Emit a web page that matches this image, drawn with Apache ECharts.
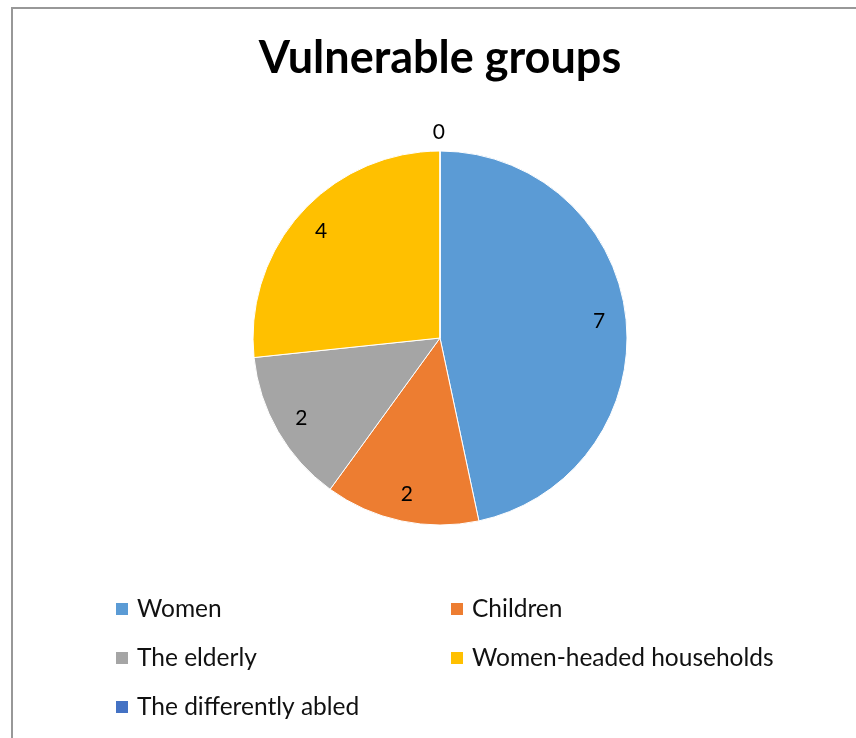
<!DOCTYPE html>
<html>
<head>
<meta charset="utf-8">
<script src="https://cdn.jsdelivr.net/npm/echarts@6/dist/echarts.min.js"></script>
<style>html,body{margin:0;padding:0;background:#fff;}#main{width:856px;height:738px;}</style>
</head>
<body>
<div id="main"></div>
<script>
const titleText = 'Vulnerable groups';
const categories = ['Women', 'Children', 'The elderly', 'Women-headed households', 'The differently abled'];
const values = [7, 2, 2, 4, 0];
const colors = ['#5B9BD5', '#ED7D31', '#A5A5A5', '#FFC000', '#4472C4'];
const leftLegend = ['Women', 'The elderly', 'The differently abled'];
const rightLegend = ['Children', 'Women-headed households'];

const FONT = 'Lato, "Open Sans", sans-serif';
const R = 187;
const CENTER = [440, 338];

const chart = echarts.init(document.getElementById('main'), null, {renderer: 'canvas'});

const mainData = categories.map((c, i) => {
  const d = {name: c, value: values[i], itemStyle: {color: colors[i]}};
  if (values[i] === 0) {
    d.label = {show: true, position: 'outside', formatter: '{c}', fontSize: 21, color: '#000', fontFamily: FONT, distanceToLabelLine: -5};
    d.labelLine = {show: false, length: 19, length2: 0};
  }
  return d;
});
const labelData = categories.map((c, i) => ({
  name: c, value: values[i],
  label: {show: values[i] !== 0}
}));

const legendCommon = {
  orient: 'vertical', icon: 'rect', itemWidth: 14, itemHeight: 14, itemGap: 21,
  selectedMode: false,
  textStyle: {fontSize: 24.5, color: '#111', fontFamily: FONT, lineHeight: 28, padding: [0, 0, 0, 3]},
  padding: 0
};

chart.setOption({
  animation: false,
  backgroundColor: '#fff',
  title: {
    text: titleText, left: 435, top: 31, textAlign: 'center',
    textStyle: {fontSize: 45, fontWeight: 'bold', color: '#000', fontFamily: FONT}
  },
  graphic: [{
    type: 'rect', shape: {x: 12, y: 8, width: 1000, height: 1000},
    style: {fill: 'none', stroke: '#989898', lineWidth: 2}, silent: true, z: 100
  }],
  legend: [
    Object.assign({}, legendCommon, {left: 114, top: 595, data: leftLegend}),
    Object.assign({}, legendCommon, {left: 449, top: 595, data: rightLegend})
  ],
  series: [
    {
      type: 'pie', center: CENTER, radius: [0, R], startAngle: 90, clockwise: true,
      avoidLabelOverlap: false, silent: true,
      label: {show: false, formatter: '{c}'},
      labelLine: {show: false},
      itemStyle: {borderColor: '#fff', borderWidth: 1},
      data: mainData
    },
    {
      type: 'pie', center: CENTER, radius: [R * 0.68, R], startAngle: 90, clockwise: true,
      avoidLabelOverlap: false, silent: true, legendHoverLink: false,
      itemStyle: {color: 'rgba(0,0,0,0)', borderWidth: 0},
      label: {position: 'inside', fontSize: 21, color: '#000', fontFamily: FONT, formatter: '{c}'},
      labelLine: {show: false},
      emphasis: {disabled: true},
      data: labelData
    }
  ]
});
</script>
</body>
</html>
